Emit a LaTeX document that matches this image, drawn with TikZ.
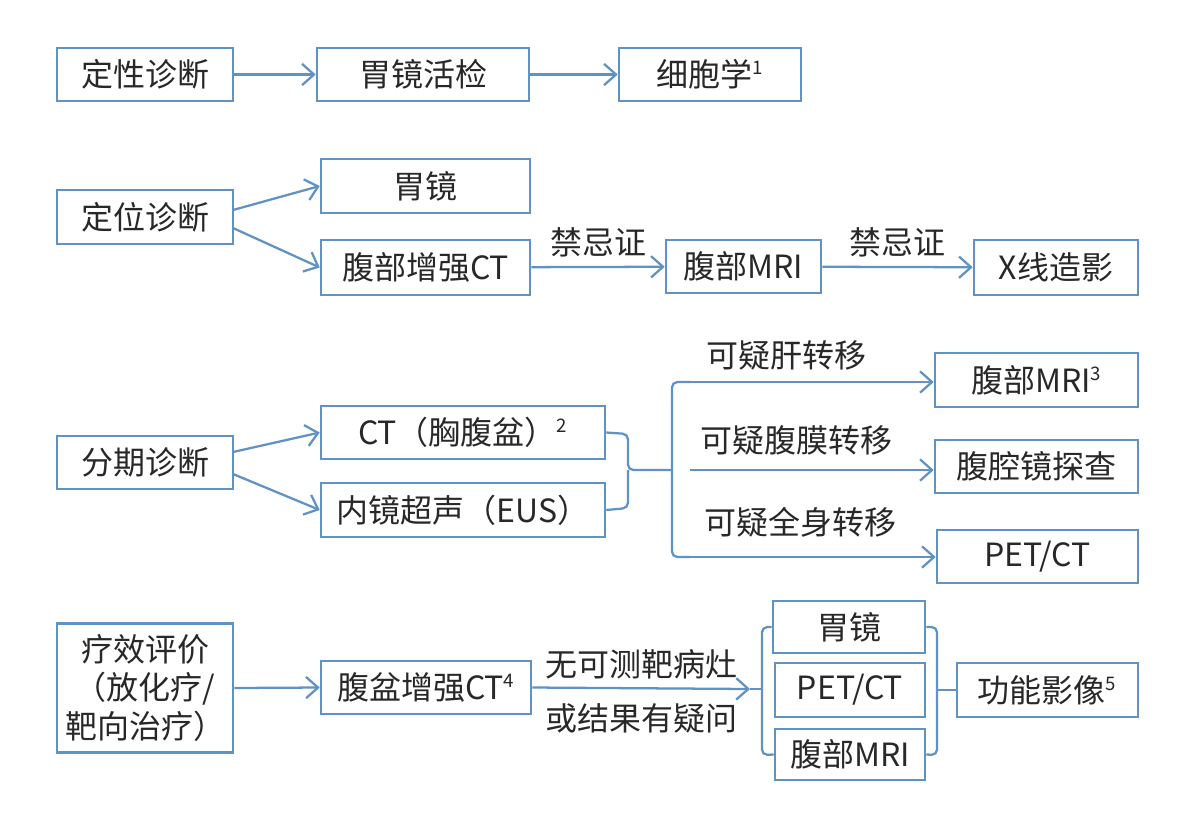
\documentclass[tikz,border=0pt]{standalone}
\usepackage{fontspec}
\setmainfont{Noto Sans CJK SC}
\usetikzlibrary{arrows.meta}
\definecolor{ln}{RGB}{96,146,196}
\definecolor{tx}{RGB}{40,40,40}
\begin{document}
\begin{tikzpicture}[x=0.75pt,y=-0.75pt,
 bx/.style={draw=ln,line width=1.9pt,inner sep=0pt,text=tx,font=\fontsize{24}{28}\selectfont},
 ar/.style={draw=ln,line width=1.7pt,-{Straight Barb[length=9pt,width=16pt]}},
 br/.style={draw=ln,line width=1.7pt,rounded corners=4pt},
 lb/.style={text=tx,font=\fontsize{24}{28}\selectfont}]
\useasboundingbox (0,0) rectangle (1196,819);
\newcommand{\bb}[6]{\node[bx,minimum width={0.75pt*(#4-#2)},minimum height={0.75pt*(#5-#3)}] (#1) at ({(#2+#4)/2},{(#3+#5)/2}) {#6};}
\newcommand{\sups}[1]{\textsuperscript{\fontsize{14}{14}\selectfont #1}}
% row 1
\bb{a1}{57}{48}{233}{101}{定性诊断}
\bb{a2}{317}{48}{529}{101}{胃镜活检}
\bb{a3}{619}{48}{801}{101}{细胞学\sups{1}}
\draw[ar] (a1) -- (a2);
\draw[ar] (a2) -- (a3);
% row 2
\bb{b1}{57}{190}{233}{244}{定位诊断}
\bb{b2}{321}{159}{530}{213}{胃镜}
\bb{b3}{321}{240}{530}{295}{腹部增强CT}
\bb{b4}{666}{240}{821}{293}{腹部MRI}
\bb{b5}{974}{240}{1138}{295}{X线造影}
\coordinate (b1r) at (233,210); \coordinate (b1s) at (233,228);
\draw[ar] (b1r) -- (b2.west);
\draw[ar] (b1s) -- (b3.west);
\draw[ar] (b3) -- node[lb,above=3pt]{禁忌证} (b4);
\draw[ar] (b4) -- node[lb,above=3pt]{禁忌证} (b5);
% row 3
\bb{c1}{57}{436}{233}{489}{分期诊断}
\bb{c2}{321}{406}{605}{459}{CT（胸腹盆）\sups{2}}
\bb{c3}{321}{483}{605}{537}{内镜超声（EUS）}
\bb{c4}{935}{353}{1138}{407}{腹部MRI\sups{3}}
\bb{c5}{935}{440}{1138}{493}{腹腔镜探查}
\bb{c6}{937}{530}{1138}{583}{PET/CT}
\coordinate (c1r) at (233,452); \coordinate (c1s) at (233,474);
\draw[ar] (c1r) -- (c2.west);
\draw[ar] (c1s) -- (c3.west);
\coordinate (j) at (672,470);
\draw[br] (c2.east) -- (628,434) -- (628,470) -- (j);
\draw[br] (c3.east) -- (628,508) -- (628,470);
\coordinate (t1) at (690,382); \coordinate (t3) at (690,557);
\draw[br] (t1) -- (672,382) -- (672,557) -- (t3);
\coordinate (t2) at (690,470);
\draw[ar] (t1) -- (c4.west|-t1);
\draw[ar] (t2) -- (c5.west|-t2);
\draw[ar] (t3) -- (c6.west|-t3);
\node[lb] (l1) at (786,355) {可疑肝转移};
\node[lb] (l2) at (796,440) {可疑腹膜转移};
\node[lb] (l3) at (800,522) {可疑全身转移};
% row 4
\node[bx,minimum width={0.75pt*176},minimum height={0.75pt*129},align=center,font=\fontsize{24}{29}\selectfont] (d1) at (145,688) {疗效评价\\（放化疗/\\靶向治疗）};
\bb{d2}{321}{661}{531}{714}{腹盆增强CT\sups{4}}
\draw[ar] (d1.east) -- (d2.west);
\bb{d3}{773}{601}{925}{653}{胃镜}
\bb{d4}{775}{663}{925}{717}{PET/CT}
\bb{d5}{775}{729}{925}{780}{腹部MRI}
\bb{d6}{957}{663}{1138}{717}{功能影像\sups{5}}
\coordinate (k) at (750,689);
\draw[ar] (d2.east) -- node[lb,above=3pt]{无可测靶病灶} node[lb,below=7pt]{或结果有疑问} (k);
\draw[br] (d3.west) -- (762,627) -- (762,755) -- (d5.west);
\draw[br] (k) -- (762,689);
\draw[br] (d3.east) -- (937,627) -- (937,755) -- (d5.east);
\draw[br] (937,690) -- (d6.west);
\end{tikzpicture}
\end{document}
